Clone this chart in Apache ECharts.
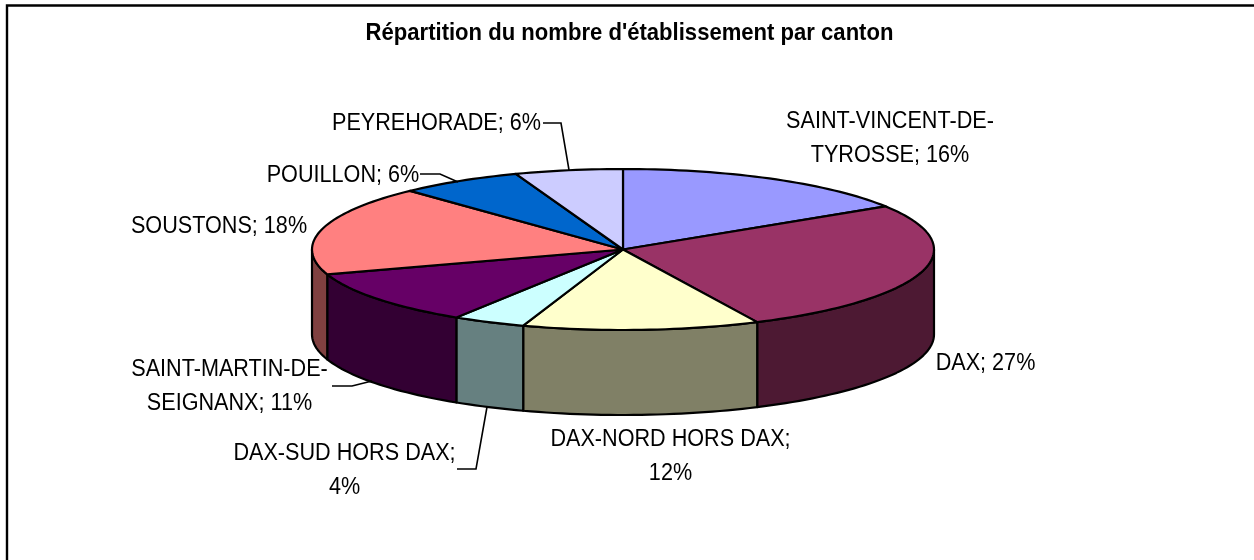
<!DOCTYPE html>
<html><head><meta charset="utf-8">
<style>html,body{margin:0;padding:0;background:#fff}#c{width:1254px;height:560px}</style>
<script src="https://cdn.jsdelivr.net/npm/echarts@6/dist/echarts.min.js"></script>
</head><body><div id="c"></div>
<script>
const titleText = "Répartition du nombre d'établissement par canton";
const categories = ['SAINT-VINCENT-DE-\nTYROSSE','DAX','DAX-NORD HORS DAX;\n','DAX-SUD HORS DAX;\n','SAINT-MARTIN-DE-\nSEIGNANX','SOUSTONS','POUILLON','PEYREHORADE'];
const shares = [16,26.9,12.3,3.8,11,18,6.4,5.6];
const topColors = ['#9999FF','#993366','#FFFFCC','#CCFFFF','#660066','#FF8080','#0066CC','#CCCCFF'];
const sideColors = ['#4D4D80','#4D1933','#808066','#668080','#330033','#804040','#003366','#666680'];

const pie = {cx:623, cy:249.5, rx:311, ry:80.5, depth:85};
const labelFont = '23.5px "Liberation Sans"';
const textSquash = 0.92;
const labelPlace = [
  {x:890,y:139},{x:985.5,y:364},{x:670.5,y:457},{x:344.5,y:471},{x:229.5,y:387},{x:219,y:227},{x:343,y:176},{x:436.5,y:124}
];
const leaders = [null,null,null,
  [[457,469],[476,469],[487,407]],
  [[332,386],[352,386],[372,381]],
  null,
  [[420,174],[440,174],[458,182]],
  [[543,123],[561,123],[569,170]]
];
const total = shares.reduce((a,b)=>a+b,0);
const startOf = i => shares.slice(0,i).reduce((a,b)=>a+b,0)/total*360;
const pt = (deg,dy=0) => {const t=deg*Math.PI/180;return [pie.cx+pie.rx*Math.sin(t),pie.cy-pie.ry*Math.cos(t)+dy];};
const arc = (a,b,dy=0) => {const n=Math.max(2,Math.ceil(Math.abs(b-a)/1.5));const out=[];for(let k=0;k<=n;k++)out.push(pt(a+(b-a)*k/n,dy));return out;};
const stroke = {stroke:'#000',lineWidth:2.2,lineJoin:'round'};

function renderWall(params,api){
  const i=params.dataIndex, a=startOf(i), b=a+api.value(0)/total*360;
  const s=Math.max(a,90), e=Math.min(b,270);
  if(e<=s) return {type:'group',children:[]};
  return {type:'polygon',shape:{points:arc(s,e).concat(arc(e,s,pie.depth))},style:{fill:sideColors[i],...stroke}};
}
function renderTop(params,api){
  const i=params.dataIndex, a=startOf(i), b=a+api.value(0)/total*360;
  return {type:'polygon',shape:{points:[[pie.cx,pie.cy]].concat(arc(a,b))},style:{fill:topColors[i],...stroke}};
}
function renderLabel(params,api){
  const i=params.dataIndex, name=categories[i], v=Math.round(api.value(0));
  const text = name.endsWith('\n') ? name+v+'%' : name+'; '+v+'%';
  const kids=[{type:'text',x:labelPlace[i].x,y:labelPlace[i].y,scaleX:textSquash,style:{text,x:0,y:0,font:labelFont,fill:'#000',align:'center',verticalAlign:'middle',lineHeight:34}}];
  if(leaders[i]) kids.push({type:'polyline',shape:{points:leaders[i]},style:{fill:null,stroke:'#000',lineWidth:1.6}});
  return {type:'group',children:kids};
}
const chart = echarts.init(document.getElementById('c'),null,{renderer:'canvas'});
chart.setOption({
  animation:false,
  backgroundColor:'#fff',
  graphic:[
    {type:'rect',shape:{x:7,y:5.5,width:1300,height:600},style:{fill:null,stroke:'#000',lineWidth:2.4},silent:true},
    {type:'text',x:629.5,y:33,scaleX:textSquash,style:{text:titleText,x:0,y:0,font:'bold 24px "Liberation Sans"',fill:'#000',align:'center',verticalAlign:'middle'},silent:true}
  ],
  series:[
    {type:'custom',coordinateSystem:'none',data:shares,renderItem:renderWall,z:2,silent:true},
    {type:'custom',coordinateSystem:'none',data:shares,renderItem:renderTop,z:3,silent:true},
    {type:'custom',coordinateSystem:'none',data:shares,renderItem:renderLabel,z:4,silent:true}
  ]
});
</script></body></html>
